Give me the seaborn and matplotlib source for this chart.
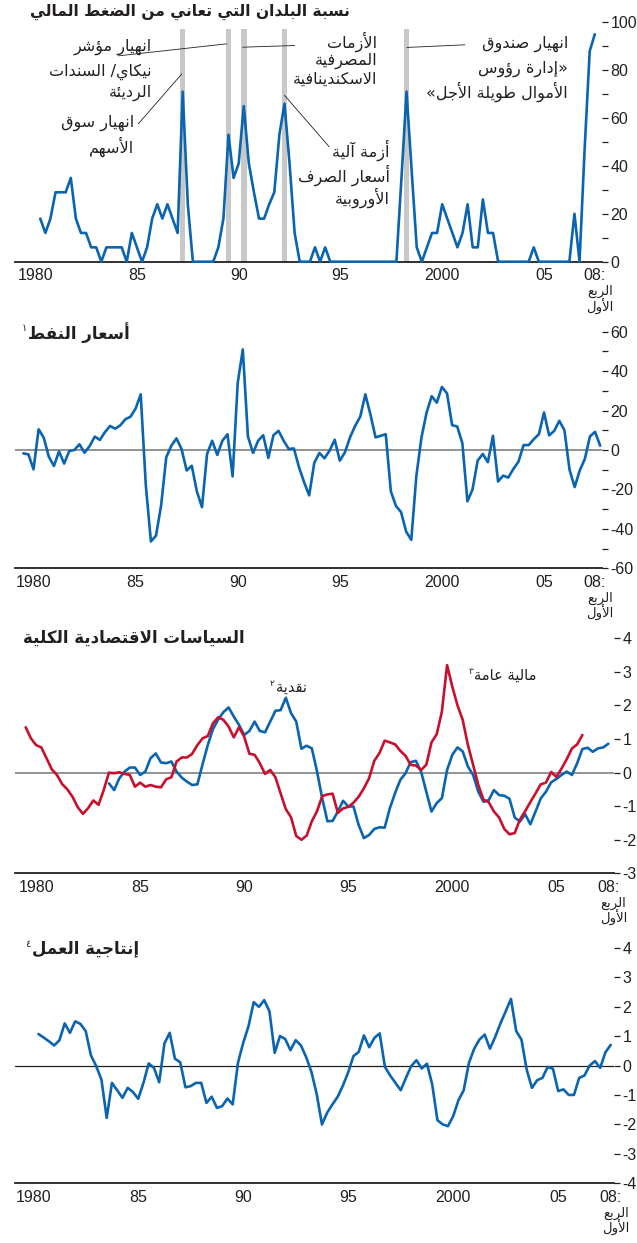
import numpy as np
import pandas as pd
import seaborn as sns
import matplotlib.pyplot as plt
from matplotlib.ticker import FixedLocator, FixedFormatter

# ---------------- data (quarterly values) ----------------
stress_start = 1980.75
stress = [18,
          12, 18, 29, 29,  29, 35, 18, 12,  12, 6, 6, 0,  6, 6, 6, 6,
          0, 12, 6, 0,  6, 18, 24, 18,  24, 18, 12, 71,  24, 0, 0, 0,
          0, 0, 6, 18,  53, 35, 41, 65,  41, 29, 18, 18,  24, 29, 53, 66,
          41, 12, 0, 0,  0, 6, 0, 6,  0, 0, 0, 0,  0, 0, 0, 0,
          0, 0, 0, 0,  0, 0, 35, 71,  38, 6, 0, 6,  12, 12, 24, 18,
          12, 6, 12, 24,  6, 6, 26, 12,  12, 0, 0, 0,  0, 0, 0, 0,
          6, 0, 0, 0,  0, 0, 0, 0,  20, 0, 47, 88,
          95]
crisis_quarters = [1987.75, 1990.0, 1990.75, 1992.75, 1998.75]

oil_start = 1980.0
oil = [-1.7, -2.2, -9.8, 10.5,  6.3, -3.4, -8.1, -0.7,  -6.9, -0.5, 0, 2.9,
       -1.4, 2, 6.8, 5.1,  9.1, 12.2, 10.8, 12.5,  15.6, 16.9, 21, 28.2,
       -18, -46.4, -43.4, -28,  -3.7, 2.2, 5.9, 0.5,  -10.4, -8, -21, -29,
       -2, 4.7, -2.5, 4.7,  8, -13.4, 34, 51,  6.9, -1.5, 4.7, 7.5,
       -4, 7.5, 9.7, 4.7,  0.5, 0.8, -8.7, -16.3,  -23, -6.5, -1.5, -4.2,
       -0.3, 5.2, -5.4, -1.2,  6.4, 12.2, 16.9, 28.2,  18, 6.4, 7.2, 8,
       -21, -28.4, -31.5, -41.4,  -45.6, -13, 6.4, 19,  27.3, 24, 32, 28.7,
       12.6, 11.9, 3.5, -26,  -20, -5.4, -2, -6.2,  7.2, -16, -13, -14,
       -9.6, -5.9, 2.5, 2.5,  5.5, 8, 19, 7.4,  9.7, 14.8, 10, -10,
       -18.8, -10.4, -4.5, 6.9,  9.2, 2.2]

fiscal_start = 1980.0
fiscal = [1.35, 1.02, 0.82, 0.75,  0.43, 0.1, -0.07, -0.34,  -0.5, -0.72, -1.03, -1.23,
          -1.06, -0.83, -0.96, -0.52,  0.0, -0.02, 0.01, -0.04,  -0.07, -0.42, -0.3, -0.42,
          -0.37, -0.42, -0.44, -0.2,  -0.14, 0.33, 0.45, 0.45,  0.56, 0.82, 1.02, 1.09,
          1.47, 1.65, 1.57, 1.37,  1.05, 1.35, 1.07, 0.56,  0.53, 0.28, -0.04, 0.08,
          -0.14, -0.62, -1.09, -1.33,  -1.89, -2.0, -1.88, -1.45,  -1.15, -0.7, -0.65, -0.63,
          -1.2, -1.07, -1.02, -0.9,  -0.72, -0.47, -0.17, 0.35,  0.58, 0.95, 0.9, 0.84,
          0.65, 0.5, 0.23, 0.21,  0.08, 0.23, 0.9, 1.14,  1.82, 3.2, 2.56, 2.0,
          1.57, 0.82, 0.23, -0.37,  -0.81, -0.88, -1.16, -1.34,  -1.68, -1.84, -1.8, -1.4,
          -1.15, -0.88, -0.62, -0.35,  -0.3, 0.02, -0.13, 0.12,  0.4, 0.72, 0.84, 1.12]

monetary_start = 1984.0
monetary = [-0.32, -0.52, -0.17, 0.03,  0.15, 0.15, -0.07, 0.03,  0.43, 0.57, 0.3, 0.28,
            0.33, 0.03, -0.15, -0.27,  -0.37, -0.35, 0.25, 0.82,  1.3, 1.58, 1.8, 1.94,
            1.67, 1.42, 1.12, 1.24,  1.52, 1.24, 1.2, 1.52,  1.84, 1.86, 2.23, 1.77,
            1.52, 0.71, 0.8, 0.72,  0.03, -0.77, -1.45, -1.44,  -1.16, -0.84, -1.01, -1.01,
            -1.56, -1.95, -1.86, -1.68,  -1.63, -1.64, -1.06, -0.61,  -0.22, -0.02, 0.31, 0.35,
            0.03, -0.57, -1.16, -0.91,  -0.76, 0.08, 0.53, 0.75,  0.63, 0.18, -0.07, -0.57,
            -0.87, -0.82, -0.52, -0.67,  -0.69, -0.78, -1.34, -1.46,  -1.24, -1.54, -1.16, -0.77,
            -0.57, -0.29, -0.19, -0.07,  0.03, -0.07, 0.28, 0.7,  0.74, 0.62, 0.72, 0.75,
            0.86]

labor_start = 1980.75
labor = [1.07,
         0.95, 0.82, 0.68, 0.86,  1.43, 1.11, 1.5, 1.41,  1.17, 0.34, -0.02, -0.48,
         -1.78, -0.59, -0.84, -1.1,  -0.76, -0.9, -1.13, -0.59,  0.07, -0.08, -0.57, 0.75,
         1.11, 0.23, 0.11, -0.74,  -0.7, -0.59, -0.59, -1.27,  -1.06, -1.44, -1.38, -1.12,
         -1.32, 0.09, 0.77, 1.33,  2.15, 1.99, 2.22, 1.84,  0.43, 1.0, 0.9, 0.52,
         0.86, 0.68, 0.28, -0.22,  -0.97, -2.0, -1.6, -1.32,  -1.06, -0.68, -0.23, 0.32,
         0.46, 1.02, 0.62, 0.94,  1.09, -0.05, -0.34, -0.59,  -0.84, -0.42, -0.02, 0.18,
         -0.1, 0.06, -0.64, -1.86,  -2.0, -2.06, -1.72, -1.18,  -0.84, 0.09, 0.57, 0.88,
         1.05, 0.57, 0.97, 1.43,  1.84, 2.26, 1.17, 0.88,  -0.14, -0.76, -0.5, -0.42,
         -0.05, -0.11, -0.87, -0.81,  -1.0, -1.0, -0.42, -0.34,  0.0, 0.15, -0.08, 0.45,
         0.7]

year_labels = ['1980', '85', '90', '95', '2000', '05']

# ---------------- simple Arabic shaping (matplotlib draws left to right) ----------------
FORMS = {'ء': (0xFE80, 1), 'آ': (0xFE81, 2), 'أ': (0xFE83, 2), 'ؤ': (0xFE85, 2),
         'إ': (0xFE87, 2), 'ئ': (0xFE89, 4), 'ا': (0xFE8D, 2), 'ب': (0xFE8F, 4),
         'ة': (0xFE93, 2), 'ت': (0xFE95, 4), 'ث': (0xFE99, 4), 'ج': (0xFE9D, 4),
         'ح': (0xFEA1, 4), 'خ': (0xFEA5, 4), 'د': (0xFEA9, 2), 'ذ': (0xFEAB, 2),
         'ر': (0xFEAD, 2), 'ز': (0xFEAF, 2), 'س': (0xFEB1, 4), 'ش': (0xFEB5, 4),
         'ص': (0xFEB9, 4), 'ض': (0xFEBD, 4), 'ط': (0xFEC1, 4), 'ظ': (0xFEC5, 4),
         'ع': (0xFEC9, 4), 'غ': (0xFECD, 4), 'ف': (0xFED1, 4), 'ق': (0xFED5, 4),
         'ك': (0xFED9, 4), 'ل': (0xFEDD, 4), 'م': (0xFEE1, 4), 'ن': (0xFEE5, 4),
         'ه': (0xFEE9, 4), 'و': (0xFEED, 2), 'ى': (0xFEEF, 2), 'ي': (0xFEF1, 4)}
LAM_ALEF = {'آ': 0xFEF5, 'أ': 0xFEF7, 'إ': 0xFEF9, 'ا': 0xFEFB}


def ar(text):
    toks, i = [], 0
    while i < len(text):
        if text[i] == 'ل' and i + 1 < len(text) and text[i + 1] in LAM_ALEF:
            toks.append(('la', text[i + 1]))
            i += 2
        else:
            toks.append(text[i])
            i += 1

    def links_fwd(tok):
        return not isinstance(tok, tuple) and tok in FORMS and FORMS[tok][1] == 4

    def links_back(tok):
        return isinstance(tok, tuple) or (tok in FORMS and FORMS[tok][1] > 1)

    out = []
    for n, tok in enumerate(toks):
        prev_ok = n > 0 and links_fwd(toks[n - 1]) and links_back(tok)
        if isinstance(tok, tuple):
            out.append(chr(LAM_ALEF[tok[1]] + int(prev_ok)))
            continue
        if tok not in FORMS:
            out.append(tok)
            continue
        base, nf = FORMS[tok]
        next_ok = nf == 4 and n + 1 < len(toks) and links_back(toks[n + 1])
        if nf == 1:
            out.append(chr(base))
        elif prev_ok and next_ok:
            out.append(chr(base + 3))
        elif prev_ok:
            out.append(chr(base + 1))
        elif next_ok:
            out.append(chr(base + 2))
        else:
            out.append(chr(base))
    return ''.join(reversed(out))


# ---------------- style ----------------
sns.set_style('white')
plt.rcParams['font.family'] = ['Liberation Sans', 'DejaVu Sans']
plt.rcParams['axes.unicode_minus'] = False

INK = '#231f20'
BLUE = '#0a64b0'
RED = '#c8102e'
ARF = 'DejaVu Sans'

W, H = 637, 1243
fig = plt.figure(figsize=(W / 100, H / 100), dpi=100)


def put(x, y, s, size=11.5, weight='normal', ha='right'):
    return fig.text(x / W, 1 - y / H, ar(s), ha=ha, va='center', fontsize=size,
                    fontweight=weight, family=ARF, color=INK)


def sup(ax, anchor, s, size=7):
    ax.annotate(s, xy=(0, 1), xycoords=anchor, xytext=(-1, 0), textcoords='offset points',
                ha='right', va='top', fontsize=size, family=ARF, color=INK)


def quarters(start, n):
    return start + 0.25 * np.arange(n)


def make_axes(box, x80, k, ylim, left_ticks, right_major, right_minor=()):
    l, r, t, b = box
    ax = fig.add_axes([l / W, 1 - b / H, (r - l) / W, (b - t) / H])
    ax.set_xlim(1980 - (x80 - l) / k, 1980 + (r - x80) / k)
    ax.set_ylim(*ylim)
    for s in ('top', 'left', 'right'):
        ax.spines[s].set_visible(False)
    ax.spines['bottom'].set_color(INK)
    ax.spines['bottom'].set_linewidth(1.3)
    years = list(range(1980, 2009))
    ax.xaxis.set_major_locator(FixedLocator(years))
    ax.xaxis.set_major_formatter(FixedFormatter([''] * 28 + ['08:']))
    ax.xaxis.set_minor_locator(FixedLocator([1980.5, 1985.5, 1990.5, 1995.5, 2000.5, 2005.5]))
    ax.xaxis.set_minor_formatter(FixedFormatter(year_labels))
    ax.tick_params(axis='x', which='major', direction='in', length=5, width=0.9, color=INK,
                   pad=4.5, labelsize=11.5, labelcolor=INK)
    ax.tick_params(axis='x', which='minor', length=0, pad=4.5, labelsize=11.5, labelcolor=INK)
    ax.yaxis.set_major_locator(FixedLocator(left_ticks))
    ax.tick_params(axis='y', direction='in', length=4, width=0.9, color=INK, labelleft=False)
    sec = ax.secondary_yaxis('right')
    sec.set_yticks(right_major)
    sec.yaxis.set_minor_locator(FixedLocator(list(right_minor)))
    sec.tick_params(axis='y', which='both', direction='out', length=4, width=0.9, color=INK,
                    pad=2, labelsize=11.5, labelcolor=INK)
    sec.spines['right'].set_visible(False)
    for dy, word in ((-30, 'الربع'), (-45, 'الأول')):
        ax.annotate(ar(word), xy=(2008, 0), xycoords=ax.get_xaxis_transform(),
                    xytext=(5, dy), textcoords='offset pixels', ha='center', va='center',
                    fontsize=9.5, family=ARF, color=INK)
    return ax


def draw(ax, start, values, color):
    df = pd.DataFrame({'t': quarters(start, len(values)), 'v': values})
    sns.lineplot(data=df, x='t', y='v', ax=ax, color=color, linewidth=1.9,
                 zorder=3, clip_on=False, legend=False)
    ax.set_xlabel('')
    ax.set_ylabel('')


# ---------------- panel 1: countries in financial stress ----------------
ax1 = make_axes((15, 602, 22.3, 261.7), 25.0, 20.35, (0, 100),
                range(0, 101, 10), range(0, 101, 20), range(10, 100, 20))
for q in crisis_quarters:
    ax1.axvspan(q - 0.135, q + 0.135, ymax=0.97, color='#c8c8c8', lw=0, zorder=1)
draw(ax1, stress_start, stress, BLUE)

put(350, 12, 'نسبة البلدان التي تعاني من الضغط المالي', size=11.2, weight='bold')
for y, s in ((46.7, 'انهيار مؤشر'), (71.7, 'نيكاي/ السندات'), (93.3, 'الرديئة')):
    put(152, y, s)
for y, s in ((41.7, 'الأزمات'), (61, 'المصرفية'), (79, 'الاسكندينافية')):
    put(377, y, s)
for y, s in ((123.3, 'انهيار سوق'), (146.7, 'الأسهم')):
    put(134, y, s)
for y, s in ((150, 'أزمة آلية'), (175, 'أسعار الصرف'), (198, 'الأوروبية')):
    put(390, y, s)
for y, s in ((44, 'انهيار صندوق'), (69, '»إدارة رؤوس'), (92, 'الأموال طويلة الأجل«')):
    put(568, y, s)

leaders = [((1984.6, 86), (1989.9, 91)), ((1990.7, 89.6), (1993.25, 90.3)),
           ((1985.57, 57.6), (1987.7, 78.4)), ((1992.75, 69.5), (1994.95, 48)),
           ((1998.77, 89.5), (2001.62, 90.6))]
for (xa, ya), (xb, yb) in leaders:
    ax1.plot([xa, xb], [ya, yb], color=INK, lw=0.6, zorder=4)

# ---------------- panel 2: oil prices ----------------
ax2 = make_axes((15, 602, 331.7, 568.3), 23.3, 20.42, (-60, 60),
                range(-60, 61, 10), range(-60, 61, 20), range(-50, 60, 20))
ax2.axhline(0, color='#8a8a8a', lw=1.3, zorder=1.5)
draw(ax2, oil_start, oil, BLUE)
t2 = put(28, 333, 'أسعار النفط', size=12, weight='bold', ha='left')
sup(ax2, t2, '١')

# ---------------- panel 3: macro policies ----------------
ax3 = make_axes((15, 614, 638.3, 873.3), 25.7, 20.81, (-3, 4),
                range(-3, 5), range(-3, 5))
ax3.axhline(0, color='#8a8a8a', lw=1.3, zorder=1.5)
pol = pd.concat([
    pd.DataFrame({'t': quarters(monetary_start, len(monetary)), 'v': monetary, 's': 'monetary'}),
    pd.DataFrame({'t': quarters(fiscal_start, len(fiscal)), 'v': fiscal, 's': 'fiscal'}),
])
sns.lineplot(data=pol, x='t', y='v', hue='s', hue_order=['monetary', 'fiscal'],
             palette={'monetary': BLUE, 'fiscal': RED}, ax=ax3, linewidth=1.9,
             zorder=3, legend=False)
ax3.set_xlabel('')
ax3.set_ylabel('')
t3 = put(23, 638, 'السياسات الاقتصادية الكلية', size=12, weight='bold', ha='left')
tm = put(307, 687, 'نقدية', size=10.5)
sup(ax3, tm, '٢', size=6.5)
tf = put(537, 675, 'مالية عامة', size=10.5)
sup(ax3, tf, '٣', size=6.5)

# ---------------- panel 4: labour productivity ----------------
ax4 = make_axes((15, 614, 947.7, 1183.3), 22.7, 21.0, (-4, 4),
                range(-4, 5), range(-4, 5))
ax4.axhline(0, color=INK, lw=0.9, zorder=1.5)
draw(ax4, labor_start, labor, BLUE)
t4 = put(32, 948, 'إنتاجية العمل', size=12, weight='bold', ha='left')
sup(ax4, t4, '٤')

fig.savefig('out.png', dpi=100)
